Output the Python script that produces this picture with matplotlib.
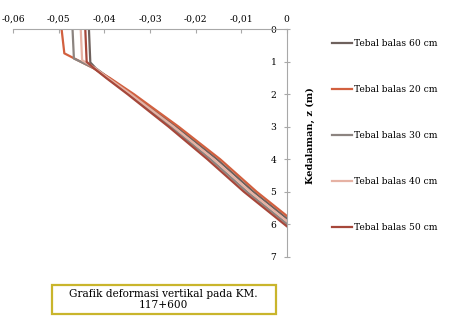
import matplotlib
matplotlib.use("Agg")
import matplotlib.pyplot as plt
from matplotlib.patches import Rectangle
from matplotlib.ticker import FuncFormatter

# depth (m) and vertical deformation (m) for each ballast thickness
z_60 = [0, 1.02, 1.2, 1.5, 2, 3, 4, 5, 5.82]
x_60 = [-0.0434, -0.0431, -0.0419, -0.0390, -0.0339, -0.0242, -0.0153, -0.0073, 0.0]
z_20 = [0, 0.74, 1.2, 1.5, 2, 3, 4, 5, 5.74]
x_20 = [-0.0494, -0.0488, -0.0424, -0.0388, -0.0335, -0.0237, -0.0146, -0.0066, 0.0]
z_30 = [0, 0.9, 1.2, 1.5, 2, 3, 4, 5, 5.98]
x_30 = [-0.0470, -0.0467, -0.0422, -0.0394, -0.0345, -0.0254, -0.0167, -0.0087, 0.0]
z_40 = [0, 0.95, 1.2, 1.5, 2, 3, 4, 5, 5.9]
x_40 = [-0.0452, -0.0449, -0.0420, -0.0392, -0.0342, -0.0248, -0.0160, -0.0080, 0.0]
z_50 = [0, 1.0, 1.2, 1.5, 2, 3, 4, 5, 6.06]
x_50 = [-0.0442, -0.0439, -0.0423, -0.0396, -0.0349, -0.0259, -0.0174, -0.0094, 0.0]

labels = ["Tebal balas 60 cm", "Tebal balas 20 cm", "Tebal balas 30 cm",
          "Tebal balas 40 cm", "Tebal balas 50 cm"]
colors = ["#6e615d", "#d2603f", "#8c8480", "#e6b2a4", "#a6473a"]
xs = [x_60, x_20, x_30, x_40, x_50]
zs = [z_60, z_20, z_30, z_40, z_50]

x_ticks = [-0.06, -0.05, -0.04, -0.03, -0.02, -0.01, 0]
y_ticks = [0, 1, 2, 3, 4, 5, 6, 7]

plt.rcParams['font.family'] = ['DejaVu Serif']

fig = plt.figure(figsize=(4.68, 3.24), dpi=100)
ax = fig.add_axes([13.3 / 468, 1 - 256.7 / 324, (286.7 - 13.3) / 468, (256.7 - 29.3) / 324])

lines = []
for x, z, c, lab in zip(xs, zs, colors, labels):
    ln, = ax.plot(x, z, color=c, lw=1.6, label=lab, solid_joinstyle='round')
    lines.append(ln)

ax.set_xlim(-0.06, 0)
ax.set_ylim(7, 0)
ax.set_xticks(x_ticks)
ax.set_yticks(y_ticks)
ax.xaxis.set_major_formatter(FuncFormatter(lambda v, p: ("%.2f" % v).replace('.', ',') if v != 0 else "0"))

ax.xaxis.tick_top()
for s in ['bottom', 'left']:
    ax.spines[s].set_visible(False)
ax.spines['top'].set_color('#a8a8a8')
ax.spines['right'].set_color('#a8a8a8')
ax.yaxis.tick_right()
ax.tick_params(axis='x', direction='in', length=3, color='#a8a8a8', labelsize=6.6, pad=4)
ax.tick_params(axis='y', direction='inout', length=5, color='#a8a8a8', labelsize=6.6,
               pad=-10)
for t in ax.get_yticklabels():
    t.set_horizontalalignment('right')

fig.text(310 / 468, 1 - 136 / 324, "Kedalaman, z (m)", rotation=90, fontsize=7,
         fontweight='bold', ha='center', va='center')

fig.legend(handles=lines, loc='upper left', bbox_to_anchor=(332 / 468, 1 - 39 / 324),
           frameon=False, fontsize=6.6, labelspacing=4.05, handlelength=2.2,
           handletextpad=0.2, borderaxespad=0, borderpad=0)

fig.patches.append(Rectangle((51.7 / 468, 1 - 314 / 324), 224 / 468, 29 / 324,
                             transform=fig.transFigure, fill=False,
                             edgecolor='#c9b52c', lw=1.6))
fig.text(163.5 / 468, 1 - 299.5 / 324, "Grafik deformasi vertikal pada KM.\n117+600",
         ha='center', va='center', fontsize=7.6, linespacing=1.15)

fig.savefig("out.png", dpi=100)
